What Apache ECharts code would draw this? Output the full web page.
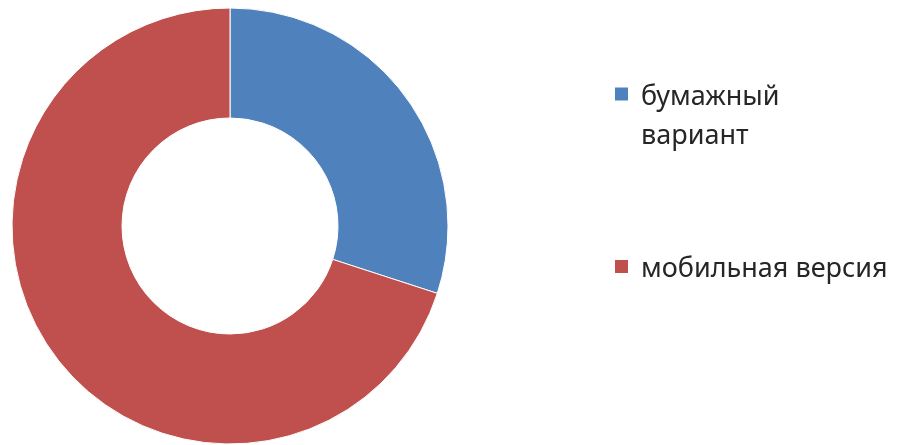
<!DOCTYPE html>
<html>
<head>
<meta charset="utf-8">
<script src="https://cdn.jsdelivr.net/npm/echarts@6/dist/echarts.min.js"></script>
<style>
html,body{margin:0;padding:0;background:#fff;}
#c{width:898px;height:445px;}
</style>
</head>
<body>
<div id="c"></div>
<script>
const categories = ['бумажный вариант', 'мобильная версия'];
const values = [30, 70];
const colors = ['#4F81BD', '#C0504D'];

const chart = echarts.init(document.getElementById('c'), null, {renderer: 'canvas'});
const txt = {fontFamily: 'Noto Sans', fontSize: 27, color: '#262626', lineHeight: 39, padding: [0, 0, 0, 7]};
chart.setOption({
  animation: false,
  backgroundColor: '#fff',
  color: colors,
  legend: [
    {
      left: 608, top: 36.5,
      itemWidth: 15, itemHeight: 15, itemGap: 0,
      icon: 'rect',
      selectedMode: false,
      data: [categories[0]],
      formatter: function (n) { const p = n.split(' '); return '{e| }\n{a|' + p[0] + '}\n{a|' + p[1] + '}'; },
      textStyle: {rich: {a: txt, e: Object.assign({}, txt, {lineHeight: 45})}}
    },
    {
      left: 608, top: 240,
      itemWidth: 15, itemHeight: 15,
      icon: 'rect',
      selectedMode: false,
      data: [categories[1]],
      formatter: function (n) { return '{e| }\n{a|' + n + '}'; },
      textStyle: {rich: {a: txt, e: Object.assign({}, txt, {fontSize: 4, lineHeight: 6})}}
    }
  ],
  series: [{
    type: 'pie',
    center: [230, 226],
    radius: [108, 218],
    startAngle: 90,
    clockwise: true,
    label: {show: false},
    labelLine: {show: false},
    emphasis: {disabled: true},
    itemStyle: {borderColor: '#fff', borderWidth: 1},
    data: categories.map((c, i) => ({name: c, value: values[i]}))
  }]
});
</script>
</body>
</html>
